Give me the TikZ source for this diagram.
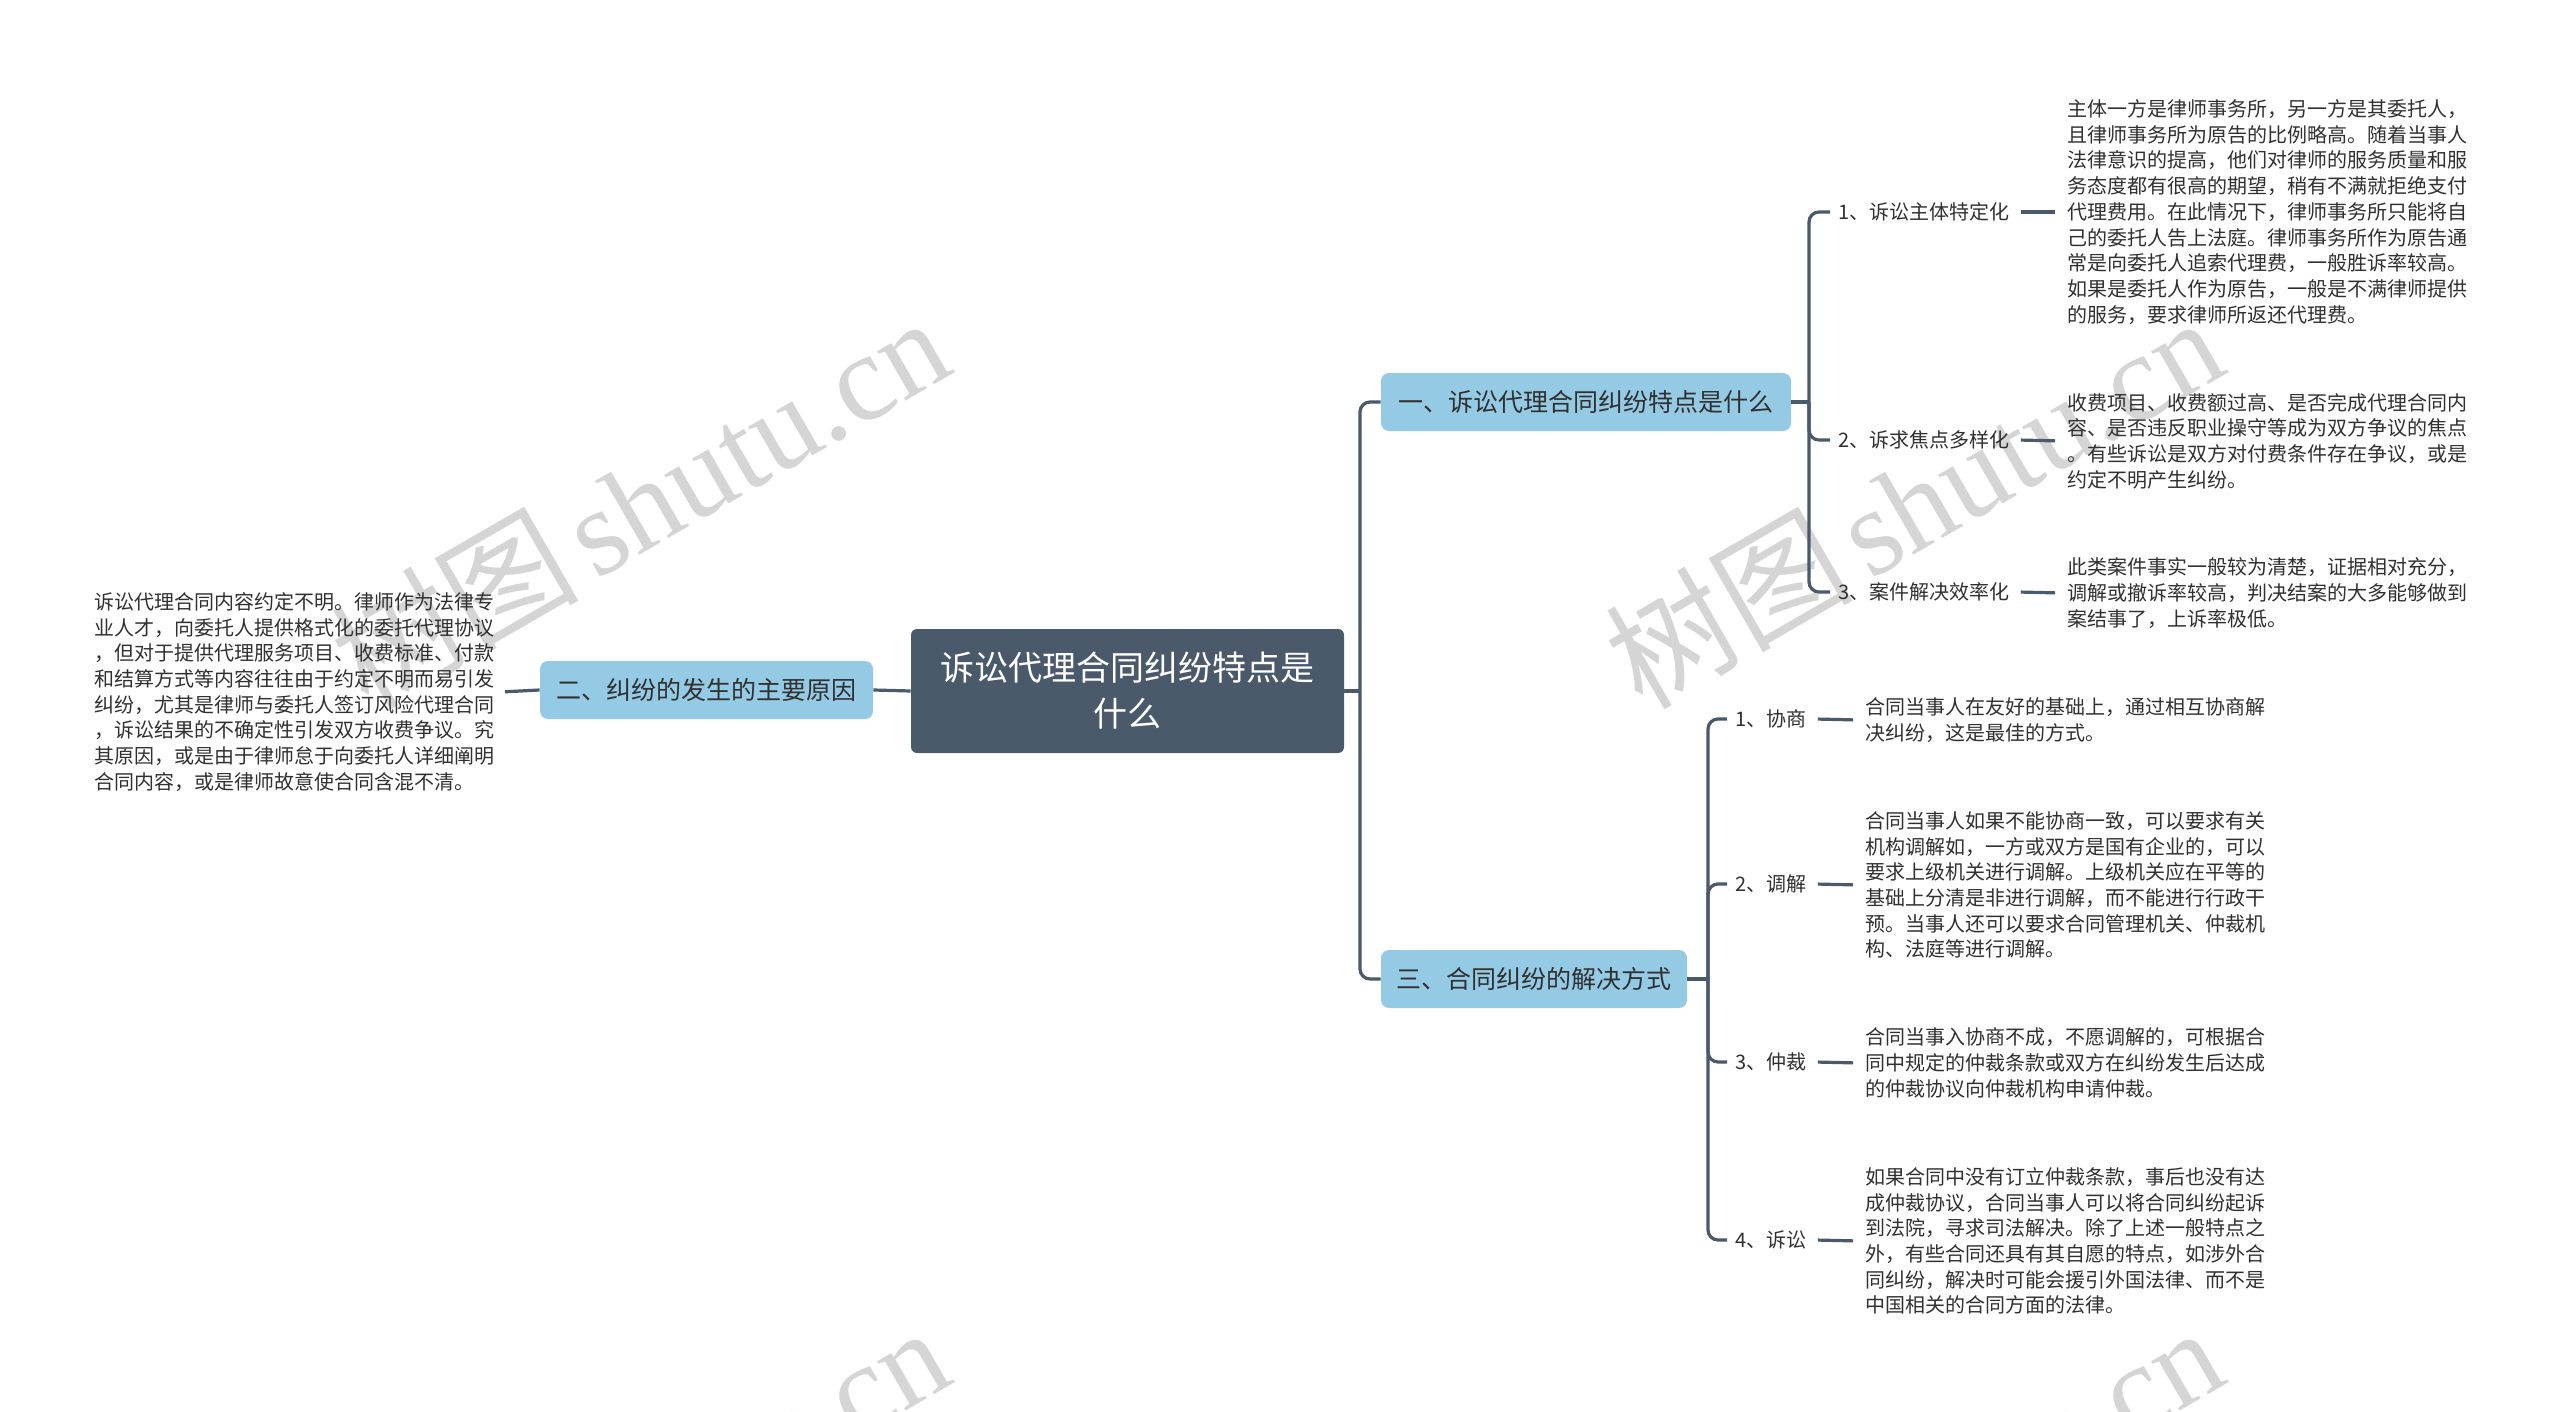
\documentclass[tikz,border=0pt]{standalone}
\usepackage{fontspec}
\setmainfont{Noto Sans CJK SC}
\newfontfamily\wmserif{Liberation Serif}
\definecolor{rootc}{HTML}{4B5A6A}
\definecolor{lvlc}{HTML}{95CAE4}
\definecolor{txtc}{HTML}{303030}
\definecolor{wmc}{HTML}{D5D5D5}
\tikzset{
 conn/.style={draw=rootc, line width=1.6pt},
 rootbox/.style={fill=rootc, rounded corners=3pt, text=white, align=center, minimum width=216.5pt, minimum height=62pt, font=\fontsize{17}{23}\selectfont, inner sep=0pt},
 lvl/.style={fill=lvlc, rounded corners=4pt, text=txtc, minimum height=29pt, inner sep=0pt, font=\fontsize{12.5}{15}\selectfont},
 lab/.style={text=txtc, inner xsep=4pt, inner ysep=2pt, anchor=west, font=\fontsize{10}{12}\selectfont},
 desc/.style={text=txtc, align=left, inner xsep=3pt, inner ysep=2pt, font=\fontsize{10}{12.85}\selectfont},
 wm/.style={text=wmc, inner sep=0pt, rotate=30, anchor=base west, font=\fontsize{62}{62}\selectfont},
}
\newcommand{\wmtext}{树图\hspace{0.12em}{\wmserif shutu.cn}}
\begin{document}
\begin{tikzpicture}[x=0.5pt,y=-0.5pt]
\useasboundingbox (0,0) rectangle (2560,1412);
\fill[white] (0,0) rectangle (2560,1412);
% watermarks
\begin{scope}
\clip (0,0) rectangle (2560,1412);
\node[wm] (wm1) at (368,712) {\wmtext};
\node[wm] (wm2) at (1642,712) {\wmtext};
\node[wm] (wm3) at (368,1722) {\wmtext};
\node[wm] (wm4) at (1642,1722) {\wmtext};
\end{scope}

% main nodes
\node[rootbox] (root) at (1127.5,691) {诉讼代理合同纠纷特点是\\什么};
\node[lvl, minimum width=205pt] (n1) at (1586,402) {一、诉讼代理合同纠纷特点是什么};
\node[lvl, minimum width=166.5pt] (n2) at (706.5,690) {二、纠纷的发生的主要原因};
\node[lvl, minimum width=153pt] (n3) at (1534,979) {三、合同纠纷的解决方式};

% left description
\node[desc, anchor=east] (tl) at (501,692) {诉讼代理合同内容约定不明。律师作为法律专\\业人才，向委托人提供格式化的委托代理协议\\，但对于提供代理服务项目、收费标准、付款\\和结算方式等内容往往由于约定不明而易引发\\纠纷，尤其是律师与委托人签订风险代理合同\\，诉讼结果的不确定性引发双方收费争议。究\\其原因，或是由于律师怠于向委托人详细阐明\\合同内容，或是律师故意使合同含混不清。};

% branch 1 labels
\node[lab] (a1) at (1830,212) {1、诉讼主体特定化};
\node[lab] (a2) at (1830,440) {2、诉求焦点多样化};
\node[lab] (a3) at (1830,592) {3、案件解决效率化};
\node[desc, anchor=west] (ta1) at (2061,212) {主体一方是律师事务所，另一方是其委托人，\\且律师事务所为原告的比例略高。随着当事人\\法律意识的提高，他们对律师的服务质量和服\\务态度都有很高的期望，稍有不满就拒绝支付\\代理费用。在此情况下，律师事务所只能将自\\己的委托人告上法庭。律师事务所作为原告通\\常是向委托人追索代理费，一般胜诉率较高。\\如果是委托人作为原告，一般是不满律师提供\\的服务，要求律师所返还代理费。};
\node[desc, anchor=west] (ta2) at (2061,441) {收费项目、收费额过高、是否完成代理合同内\\容、是否违反职业操守等成为双方争议的焦点\\。有些诉讼是双方对付费条件存在争议，或是\\约定不明产生纠纷。};
\node[desc, anchor=west] (ta3) at (2061,593) {此类案件事实一般较为清楚，证据相对充分，\\调解或撤诉率较高，判决结案的大多能够做到\\案结事了，上诉率极低。};

% branch 3 labels
\node[lab] (c1) at (1727,719) {1、协商};
\node[lab] (c2) at (1727,884) {2、调解};
\node[lab] (c3) at (1727,1062) {3、仲裁};
\node[lab] (c4) at (1727,1240) {4、诉讼};
\node[desc, anchor=west] (tc1) at (1859,720) {合同当事人在友好的基础上，通过相互协商解\\决纠纷，这是最佳的方式。};
\node[desc, anchor=west] (tc2) at (1859,885) {合同当事人如果不能协商一致，可以要求有关\\机构调解如，一方或双方是国有企业的，可以\\要求上级机关进行调解。上级机关应在平等的\\基础上分清是非进行调解，而不能进行行政干\\预。当事人还可以要求合同管理机关、仲裁机\\构、法庭等进行调解。};
\node[desc, anchor=west] (tc3) at (1859,1063) {合同当事入协商不成，不愿调解的，可根据合\\同中规定的仲裁条款或双方在纠纷发生后达成\\的仲裁协议向仲裁机构申请仲裁。};
\node[desc, anchor=west] (tc4) at (1859,1241) {如果合同中没有订立仲裁条款，事后也没有达\\成仲裁协议，合同当事人可以将合同纠纷起诉\\到法院，寻求司法解决。除了上述一般特点之\\外，有些合同还具有其自愿的特点，如涉外合\\同纠纷，解决时可能会援引外国法律、而不是\\中国相关的合同方面的法律。};

% junctions
\coordinate (j0) at (1360,691);
\coordinate (j1) at (1809,402);
\coordinate (j3) at (1708,979);

% connectors
\draw[conn] (root.west) -- (n2.east);
\draw[conn, shorten >=2pt] (n2.west) -- (tl.east);
\draw[conn] (root.east) -- (j0);
\draw[conn, rounded corners=5pt] (j0) |- (n1.west);
\draw[conn, rounded corners=5pt] (j0) |- (n3.west);
\draw[conn] (n1.east) -- (j1);
\draw[conn, rounded corners=5pt] (j1) |- (a1.west);
\draw[conn, rounded corners=5pt] (j1) |- (a2.west);
\draw[conn, rounded corners=5pt] (j1) |- (a3.west);
\draw[conn] (n3.east) -- (j3);
\draw[conn, rounded corners=5pt] (j3) |- (c1.west);
\draw[conn, rounded corners=5pt] (j3) |- (c2.west);
\draw[conn, rounded corners=5pt] (j3) |- (c3.west);
\draw[conn, rounded corners=5pt] (j3) |- (c4.west);
\draw[conn, shorten <=1.5pt, shorten >=3pt] (a1.east) -- (ta1.west);
\draw[conn, shorten <=1.5pt, shorten >=3pt] (a2.east) -- (ta2.west);
\draw[conn, shorten <=1.5pt, shorten >=3pt] (a3.east) -- (ta3.west);
\draw[conn, shorten <=1.5pt, shorten >=3pt] (c1.east) -- (tc1.west);
\draw[conn, shorten <=1.5pt, shorten >=3pt] (c2.east) -- (tc2.west);
\draw[conn, shorten <=1.5pt, shorten >=3pt] (c3.east) -- (tc3.west);
\draw[conn, shorten <=1.5pt, shorten >=3pt] (c4.east) -- (tc4.west);
\end{tikzpicture}
\end{document}
